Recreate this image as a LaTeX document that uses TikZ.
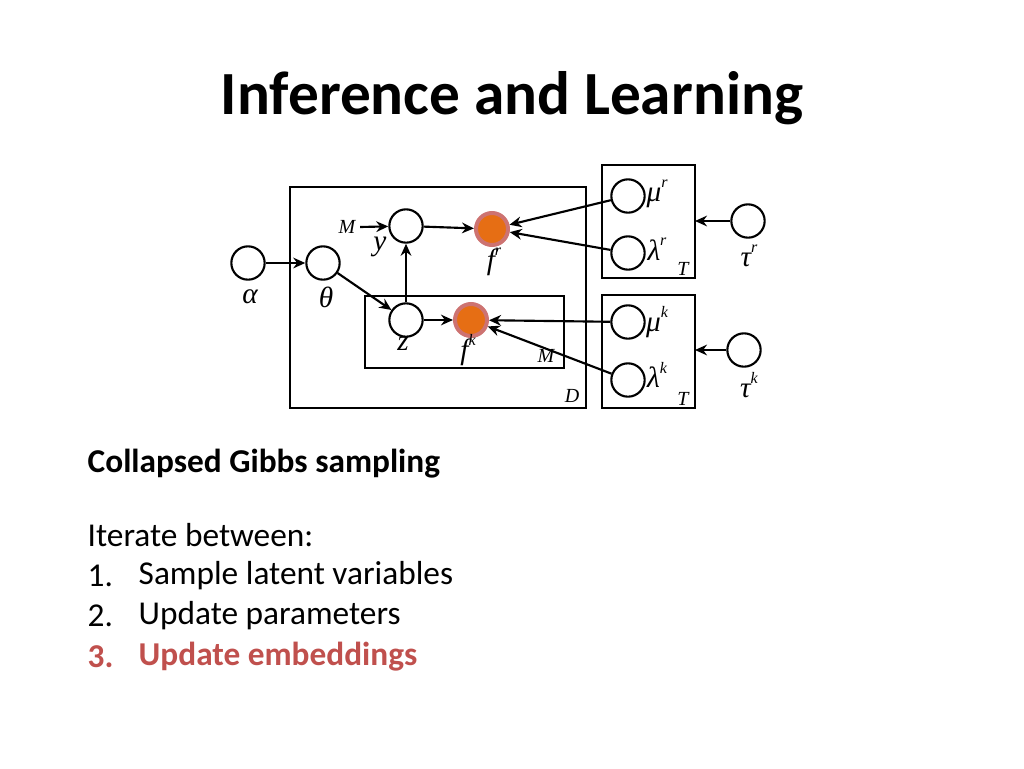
\documentclass[tikz,border=0pt]{standalone}
\usepackage{fontspec}
\setmainfont{Carlito}
\newfontfamily\tms{Liberation Serif}
\usetikzlibrary{arrows.meta}
\definecolor{ired}{RGB}{192,80,77}
\definecolor{iorange}{RGB}{230,110,20}
\newcommand{\sps}[1]{\raisebox{0.5em}{\fontsize{12}{12}\selectfont #1}}
\begin{document}
\begin{tikzpicture}[x=0.75pt,y=-0.75pt,
  var/.style={circle,draw,line width=1.6pt,minimum size=25pt,inner sep=0pt},
  obs/.style={circle,draw=ired!80,line width=3pt,fill=iorange,minimum size=24pt,inner sep=0pt},
  plate/.style={draw,line width=1.6pt},
  lab/.style={font=\tms\itshape\fontsize{22}{22}\selectfont},
  sm/.style={font=\tms\itshape\fontsize{15}{15}\selectfont},
  ar/.style={-{Stealth[length=9pt,width=8pt]},line width=1.6pt},
  body/.style={anchor=west,font=\fontsize{25}{25}\selectfont}]
\useasboundingbox (0,0) rectangle (1024,768);
\node[font=\bfseries\fontsize{46}{46}\selectfont] (title) at (512,98) {Inference and Learning};
% plates
\draw[plate] (290,187) rectangle (586,408);
\draw[plate] (365,296) rectangle (564,368);
\draw[plate] (602,165) rectangle (695,278);
\draw[plate] (602,295) rectangle (695,408);
\node[sm] (D) at (572,396) {D};
\node[sm] (Mi) at (546,356) {M};
\node[sm] (T1) at (683,269) {T};
\node[sm] (T2) at (683,399) {T};
% nodes
\node[var] (alpha) at (248,263) {};
\node[var] (theta) at (323,263) {};
\node[var] (y) at (406,226) {};
\node[obs] (fr) at (492,229) {};
\node[var] (z) at (406,320) {};
\node[obs] (fk) at (471,320) {};
\node[var] (mur) at (628,196) {};
\node[var] (lr) at (628,253) {};
\node[var] (taur) at (748,221) {};
\node[var] (muk) at (628,322) {};
\node[var] (lk) at (628,380) {};
\node[var] (tauk) at (744,350) {};
% labels
\node[lab] (la) at (250,297) {α};
\node[lab] (lt) at (326,297) {θ};
\node[lab] (ly) at (380,247) {y};
\node[lab] (lfr) at (494,262) {f\sps{r}};
\node[lab] (lz) at (403,344) {z};
\node[lab] (lfk) at (468,350) {f\sps{k}};
\node[lab] (lmur) at (657,194) {μ\sps{r}};
\node[lab] (llr) at (657,249) {λ\sps{r}};
\node[lab] (ltr) at (749,256) {τ\sps{r}};
\node[lab] (lmuk) at (657,322) {μ\sps{k}};
\node[lab] (llk) at (657,375) {λ\sps{k}};
\node[lab] (ltk) at (749,385) {τ\sps{k}};
\node[sm] (Mo) at (347,227) {M};
% edges
\draw[ar] (alpha) -- (theta);
\draw[ar] (Mo.east) -- (y);
\draw[ar] (y) -- (fr);
\draw[ar] (theta) -- (z);
\draw[ar] (z) -- (y);
\draw[ar] (z) -- (fk);
\draw[ar] (mur) -- (fr);
\draw[ar] (lr) -- (fr);
\draw[ar] (muk) -- (fk);
\draw[ar] (lk) -- (fk);
\draw[ar] (taur) -- (695,221);
\draw[ar] (tauk) -- (695,350);
% text
\node[body,font=\bfseries\fontsize{25}{25}\selectfont] (cg) at (83,464) {Collapsed Gibbs sampling};
\node[body] (it) at (83,535) {Iterate between:};
\node[body] (i1) at (83,576) {1.};
\node[body] (t1) at (134,576) {Sample latent variables};
\node[body] (i2) at (83,616) {2.};
\node[body] (t2) at (134,616) {Update parameters};
\node[body,font=\bfseries\fontsize{25}{25}\selectfont,text=ired] (i3) at (83,657) {3.};
\node[body,font=\bfseries\fontsize{25}{25}\selectfont,text=ired] (t3) at (134,657) {Update embeddings};
\end{tikzpicture}
\end{document}
